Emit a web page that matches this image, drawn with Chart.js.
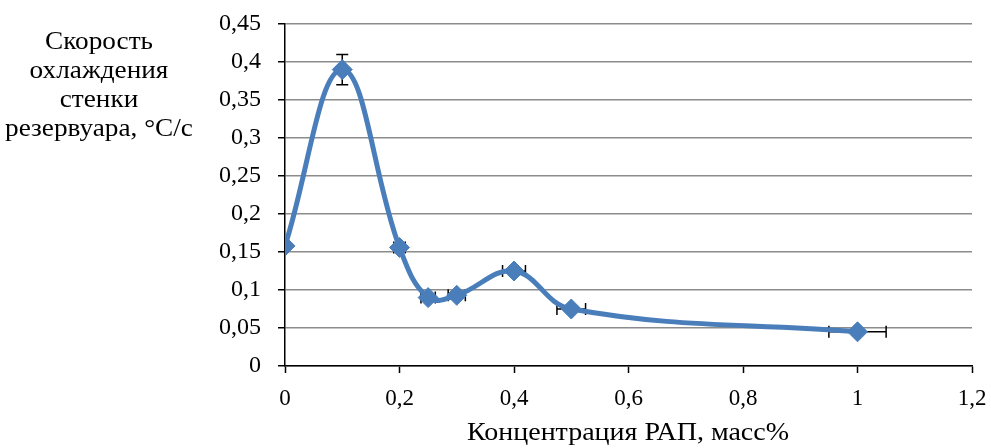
<!DOCTYPE html>
<html>
<head>
<meta charset="utf-8">
<script src="https://cdn.jsdelivr.net/npm/chart.js@4/dist/chart.umd.min.js"></script>
<style>
  body { margin: 0; background: #fff; }
  #wrap { position: relative; width: 991px; height: 448px; }
  .title {
    position: absolute; text-align: center; color: #000;
    font: 25px 'Liberation Serif', 'Times New Roman', serif;
  }
  #yTitle { left: 0; top: 26px; width: 198px; line-height: 29px; transform: scaleX(1.09); transform-origin: 99px 0; }
  #xTitle { left: 428px; top: 418px; width: 400px; line-height: 28px; transform: scaleX(1.12); transform-origin: 200px 0; white-space: nowrap; }
</style>
</head>
<body>
<div id="wrap">
  <canvas id="coolingChart" width="991" height="448"></canvas>
  <div id="yTitle" class="title">Скорость<br>охлаждения<br>стенки<br>резервуара, °C/c</div>
  <div id="xTitle" class="title">Концентрация РАП, масс%</div>
</div>
<script>
// concentration, mass% and wall cooling rate, °C/s
const concentration = [0, 0.1, 0.2, 0.25, 0.3, 0.4, 0.5, 1];
const coolingRate = [0.158, 0.39, 0.156, 0.09, 0.093, 0.125, 0.075, 0.045];
// error bars (x: ±5%, y: only at the peak)
const xError = [0, 0.005, 0.01, 0.0125, 0.015, 0.02, 0.025, 0.05];
const yError = [0, 0.02, 0, 0, 0, 0, 0, 0];
const xTickLabels = ['0', '0,2', '0,4', '0,6', '0,8', '1', '1,2'];
const yTickLabels = ['0', '0,05', '0,1', '0,15', '0,2', '0,25', '0,3', '0,35', '0,4', '0,45'];

const points = concentration.map((x, i) => ({ x: x, y: coolingRate[i] }));

// draws the error bars under the line
const errorBars = {
    id: 'errorBars',
    beforeDatasetsDraw(chart) {
        const ctx = chart.ctx;
        const xs = chart.scales.x, ys = chart.scales.y;
        const cap = 6;
        ctx.save();
        ctx.strokeStyle = '#000';
        ctx.lineWidth = 1.5;
        concentration.forEach((x, i) => {
            const px = xs.getPixelForValue(x);
            const py = ys.getPixelForValue(coolingRate[i]);
            if (xError[i] > 0) {
                const l = xs.getPixelForValue(x - xError[i]);
                const r = xs.getPixelForValue(x + xError[i]);
                ctx.beginPath();
                ctx.moveTo(l, py); ctx.lineTo(r, py);
                ctx.moveTo(l, py - cap); ctx.lineTo(l, py + cap);
                ctx.moveTo(r, py - cap); ctx.lineTo(r, py + cap);
                ctx.stroke();
            }
            if (yError[i] > 0) {
                const t = ys.getPixelForValue(coolingRate[i] + yError[i]);
                const b = ys.getPixelForValue(coolingRate[i] - yError[i]);
                ctx.beginPath();
                ctx.moveTo(px, t); ctx.lineTo(px, b);
                ctx.moveTo(px - cap, t); ctx.lineTo(px + cap, t);
                ctx.moveTo(px - cap, b); ctx.lineTo(px + cap, b);
                ctx.stroke();
            }
        });
        ctx.restore();
    }
};

const family = "'Liberation Serif', 'Times New Roman', serif";

const ctx = document.getElementById('coolingChart').getContext('2d');
const coolingChart = new Chart(ctx, {
    type: 'scatter',
    data: {
        datasets: [{
            data: points,
            showLine: true,
            borderColor: '#4A7EBB',
            backgroundColor: '#4A7EBB',
            borderWidth: 5,
            tension: 0.4,
            pointStyle: 'rectRot',
            pointRadius: 10,
            pointBorderWidth: 1,
            pointHoverRadius: 10
        }]
    },
    options: {
        responsive: false,
        animation: false,
        layout: { padding: { top: 24, right: 19, left: 0, bottom: 0 } },
        plugins: {
            legend: { display: false },
            tooltip: { enabled: false }
        },
        scales: {
            x: {
                type: 'linear',
                min: 0,
                max: 1.2,
                afterFit(scale) {
                    scale.height = 82;
                    scale.paddingLeft = 0;
                    scale.paddingRight = 0;
                },
                ticks: {
                    stepSize: 0.2,
                    color: '#000',
                    font: { family: family, size: 23 },
                    padding: 12,
                    maxRotation: 0,
                    callback: (v, i) => xTickLabels[i]
                },
                grid: { drawOnChartArea: false, tickLength: 7, tickColor: '#000', tickWidth: 1.5 },
                border: { color: '#000', width: 1.5 }
            },
            y: {
                min: 0,
                max: 0.45,
                afterFit(scale) {
                    scale.width = 285;
                    scale.paddingTop = 0;
                    scale.paddingBottom = 0;
                },
                ticks: {
                    stepSize: 0.05,
                    color: '#000',
                    font: { family: family, size: 24 },
                    padding: 17,
                    callback: (v, i) => yTickLabels[i]
                },
                grid: { color: '#8c8c8c', lineWidth: 1.5, tickLength: 7, tickColor: '#000', tickWidth: 1.5 },
                border: { color: '#000', width: 1.5 }
            }
        }
    },
    plugins: [errorBars]
});
</script>
</body>
</html>
